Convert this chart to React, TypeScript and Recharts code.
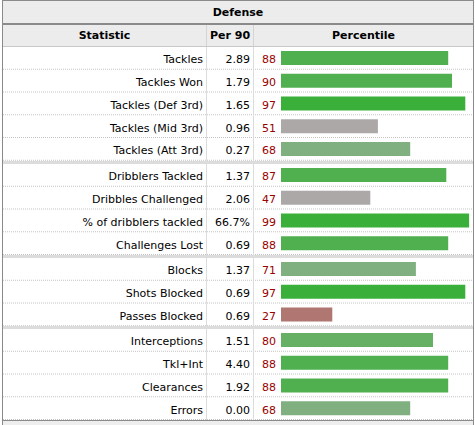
import React from "react";
import { Bar, BarChart, Cell, XAxis, YAxis } from "recharts";

const statistics = [
  "Tackles",
  "Tackles Won",
  "Tackles (Def 3rd)",
  "Tackles (Mid 3rd)",
  "Tackles (Att 3rd)",
  "Dribblers Tackled",
  "Dribbles Challenged",
  "% of dribblers tackled",
  "Challenges Lost",
  "Blocks",
  "Shots Blocked",
  "Passes Blocked",
  "Interceptions",
  "Tkl+Int",
  "Clearances",
  "Errors",
];

const per90 = ["2.89", "1.79", "1.65", "0.96", "0.27", "1.37", "2.06", "66.7%", "0.69", "1.37", "0.69", "0.69", "1.51", "4.40", "1.92", "0.00"];

const percentiles = [88, 90, 97, 51, 68, 87, 47, 99, 88, 71, 97, 27, 80, 88, 88, 68];

const groupSizes = [5, 4, 3, 4];

const ROW_H = 22.75;
const FONT = '"DejaVu Sans", Verdana, sans-serif';

const barColor = (p: number) => {
  if (p >= 95) return "#3aaf3a";
  if (p >= 85) return "#50b050";
  if (p >= 75) return "#66b066";
  if (p >= 60) return "#80b080";
  if (p >= 30) return "#aca8a8";
  return "#b07672";
};

const Group = ({ start, count }: { start: number; count: number }) => {
  const rows = statistics.slice(start, start + count).map((stat, i) => ({
    stat,
    per90: per90[start + i],
    pct: percentiles[start + i],
  }));

  const renderTick = (props: any) => {
    const { y, index } = props;
    const r = rows[index];
    if (!r) return <g />;
    const bottom = y + ROW_H / 2 - 0.5;
    return (
      <g fontFamily={FONT} fontSize={11}>
        <line x1={0} x2={470} y1={bottom} y2={bottom} stroke="#c4c4c4" strokeDasharray="1 1" />
        <line x1={203.5} x2={203.5} y1={y - ROW_H / 2} y2={y + ROW_H / 2} stroke="#dcdcdc" />
        <line x1={250.5} x2={250.5} y1={y - ROW_H / 2} y2={y + ROW_H / 2} stroke="#dcdcdc" />
        <text x={200} y={y} dy="0.45em" textAnchor="end" fill="#000">
          {r.stat}
        </text>
        <text x={247} y={y} dy="0.45em" textAnchor="end" fill="#000">
          {r.per90}
        </text>
        <text x={273} y={y} dy="0.45em" textAnchor="end" fill="#990000">
          {r.pct}
        </text>
      </g>
    );
  };

  return (
    <BarChart
      width={470}
      height={ROW_H * count}
      data={rows}
      layout="vertical"
      margin={{ top: 0, right: 2, bottom: 0, left: 0 }}
      style={{ display: "block" }}
    >
      <XAxis type="number" domain={[0, 100]} hide />
      <YAxis
        type="category"
        dataKey="stat"
        width={278}
        axisLine={false}
        tickLine={false}
        interval={0}
        tick={renderTick}
      />
      <Bar dataKey="pct" barSize={14} isAnimationActive={false}>
        {rows.map((r, i) => (
          <Cell key={`cell-${i}`} fill={barColor(r.pct)} />
        ))}
      </Bar>
    </BarChart>
  );
};

const App = () => {
  const starts = groupSizes.map((_, i) => groupSizes.slice(0, i).reduce((a, b) => a + b, 0));
  return (
    <div style={{ position: "absolute", left: 2, top: 0, fontFamily: FONT, fontSize: 11, color: "#000" }}>
      <div style={{ width: 470, border: "1px solid #8a8a8a", background: "#fff" }}>
        {/* Title */}
        <div
          style={{
            height: 22,
            lineHeight: "23px",
            background: "#ececec",
            textAlign: "center",
            fontWeight: "bold",
            borderBottom: "2px solid #8a8a8a",
          }}
        >
          Defense
        </div>
        {/* Column headers */}
        <div style={{ display: "flex", height: 21, lineHeight: "22px", background: "#ececec", fontWeight: "bold", borderBottom: "1px solid #c8c8c8" }}>
          <div style={{ width: 203, textAlign: "center", borderRight: "1px solid #d4d4d4" }}>Statistic</div>
          <div style={{ width: 46, textAlign: "center", borderRight: "1px solid #d4d4d4" }}>Per 90</div>
          <div style={{ flex: 1, textAlign: "center" }}>Percentile</div>
        </div>
        {groupSizes.map((count, i) => (
          <div key={i}>
            {i > 0 && <div style={{ height: 3, background: "#dcdcdc" }} />}
            <Group start={starts[i]} count={count} />
          </div>
        ))}
      </div>
      <div style={{ width: 470, height: 6, background: "#eeeeee", borderLeft: "1px solid #8a8a8a", borderRight: "1px solid #8a8a8a" }} />
    </div>
  );
};

export default App;
